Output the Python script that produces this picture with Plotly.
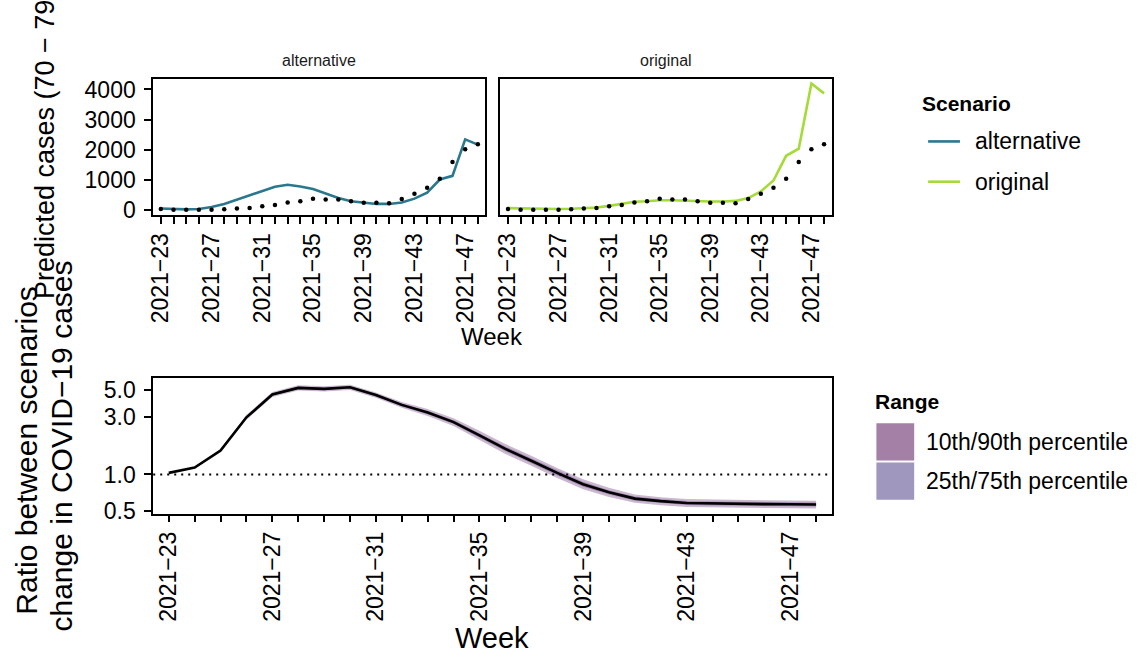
import plotly.graph_objects as go

W, H = 1140, 664

weeks = ["2021-23", "2021-24", "2021-25", "2021-26", "2021-27", "2021-28", "2021-29",
         "2021-30", "2021-31", "2021-32", "2021-33", "2021-34", "2021-35", "2021-36",
         "2021-37", "2021-38", "2021-39", "2021-40", "2021-41", "2021-42", "2021-43",
         "2021-44", "2021-45", "2021-46", "2021-47", "2021-48"]

observed = [35, 15, 10, 12, 15, 30, 55, 70, 130, 170, 255, 290, 380, 350, 350, 295,
            240, 245, 225, 365, 545, 740, 1040, 1595, 2015, 2180]

pred_alternative = [55, 35, 25, 35, 100, 200, 340, 470, 620, 775, 840, 785, 700, 555,
                    400, 295, 240, 205, 205, 250, 380, 580, 1015, 1135, 2345, 2170]

pred_original = [65, 55, 35, 35, 35, 45, 65, 85, 140, 220, 275, 295, 325, 325, 305, 285,
                 285, 285, 305, 400, 620, 980, 1800, 2040, 4195, 3870]

ratio_median = [1.03, 1.14, 1.58, 2.98, 4.61, 5.23, 5.13, 5.29, 4.56, 3.78, 3.27, 2.72,
                2.11, 1.63, 1.30, 1.03, 0.83, 0.71, 0.63, 0.60, 0.58, 0.574, 0.570,
                0.567, 0.566, 0.563]
ratio_p10 = [1.02, 1.12, 1.53, 2.85, 4.40, 4.98, 4.88, 5.03, 4.33, 3.57, 3.06, 2.52,
             1.93, 1.48, 1.18, 0.935, 0.755, 0.650, 0.582, 0.555, 0.537, 0.532, 0.529,
             0.526, 0.525, 0.522]
ratio_p90 = [1.04, 1.16, 1.63, 3.12, 4.83, 5.49, 5.39, 5.56, 4.80, 4.00, 3.49, 2.93,
             2.30, 1.79, 1.43, 1.13, 0.91, 0.775, 0.683, 0.648, 0.625, 0.617, 0.613,
             0.610, 0.609, 0.606]
ratio_p25 = [1.025, 1.13, 1.555, 2.91, 4.50, 5.10, 5.00, 5.16, 4.44, 3.67, 3.16, 2.62,
             2.02, 1.555, 1.24, 0.98, 0.79, 0.68, 0.605, 0.577, 0.558, 0.553, 0.549,
             0.546, 0.545, 0.542]
ratio_p75 = [1.035, 1.15, 1.605, 3.05, 4.72, 5.36, 5.26, 5.42, 4.68, 3.89, 3.38, 2.82,
             2.20, 1.71, 1.36, 1.08, 0.87, 0.74, 0.655, 0.624, 0.603, 0.596, 0.592,
             0.589, 0.588, 0.585]

scenarios = ["alternative", "original"]
scenario_colors = {"alternative": "#2A788E", "original": "#A5DB36"}
range_labels = ["10th/90th percentile", "25th/75th percentile"]
range_key_colors = ["#A47FA6", "#A097BE"]
range_fill_colors = ["rgba(68,1,84,0.28)", "rgba(72,40,120,0.30)"]

y_ticks_top = [0, 1000, 2000, 3000, 4000]
y_ticks_bottom = [0.5, 1.0, 3.0, 5.0]
y_ticktext_bottom = ["0.5", "1.0", "3.0", "5.0"]

week_ticktext = [w.replace("-", "\u2212") if i % 4 == 0 else "" for i, w in enumerate(weeks)]

FONT = "Liberation Sans, Arial, Helvetica, sans-serif"
TXT = "#000000"


def px_x(p):
    return p / W


def px_y(p):
    return 1 - p / H


fig = go.Figure()

# --- top panels ---
preds = {"alternative": pred_alternative, "original": pred_original}
for k, sc in enumerate(scenarios):
    xa = "x" if k == 0 else "x2"
    ya = "y" if k == 0 else "y2"
    fig.add_trace(go.Scatter(x=weeks, y=preds[sc], mode="lines",
                             line=dict(color=scenario_colors[sc], width=2.6),
                             xaxis=xa, yaxis=ya, showlegend=False, name=sc))
    fig.add_trace(go.Scatter(x=weeks, y=observed, mode="markers",
                             marker=dict(color="black", size=4.5),
                             xaxis=xa, yaxis=ya, showlegend=False, name="observed"))

# --- bottom panel: bands + median ---
fig.add_trace(go.Scatter(x=weeks, y=ratio_p90, mode="lines", line=dict(width=0),
                         xaxis="x3", yaxis="y3", showlegend=False, hoverinfo="skip"))
fig.add_trace(go.Scatter(x=weeks, y=ratio_p10, mode="lines", line=dict(width=0),
                         fill="tonexty", fillcolor=range_fill_colors[0],
                         xaxis="x3", yaxis="y3", showlegend=False, name=range_labels[0]))
fig.add_trace(go.Scatter(x=weeks, y=ratio_p75, mode="lines", line=dict(width=0),
                         xaxis="x3", yaxis="y3", showlegend=False, hoverinfo="skip"))
fig.add_trace(go.Scatter(x=weeks, y=ratio_p25, mode="lines", line=dict(width=0),
                         fill="tonexty", fillcolor=range_fill_colors[1],
                         xaxis="x3", yaxis="y3", showlegend=False, name=range_labels[1]))
fig.add_trace(go.Scatter(x=weeks, y=ratio_median, mode="lines",
                         line=dict(color="black", width=2.6),
                         xaxis="x3", yaxis="y3", showlegend=False, name="median"))

# reference line at ratio 1
fig.add_shape(type="line", xref="x3 domain", yref="y3", x0=0, x1=1, y0=1.0, y1=1.0,
              line=dict(color="black", width=2, dash="2px,5px"))

common_x = dict(type="category", categoryorder="array", categoryarray=weeks,
                range=[-0.6, len(weeks) - 1 + 0.6],
                tickmode="array", tickvals=weeks, ticktext=week_ticktext,
                tickangle=-90, ticks="outside", ticklen=7, tickwidth=1.6, tickcolor="black",
                showline=True, mirror=True, linecolor="black", linewidth=1.8,
                showgrid=False, zeroline=False,
                tickfont=dict(size=23, color=TXT, family=FONT))

fig.update_layout(
    width=W, height=H,
    margin=dict(l=0, r=0, t=0, b=0),
    paper_bgcolor="white", plot_bgcolor="white",
    font=dict(family=FONT, color=TXT),
    xaxis=dict(domain=[px_x(148), px_x(482)], anchor="y", **common_x),
    xaxis2=dict(domain=[px_x(497), px_x(830)], anchor="y2", **common_x),
    xaxis3=dict(domain=[px_x(148), px_x(830)], anchor="y3", **common_x),
    yaxis=dict(domain=[px_y(217), px_y(78)], anchor="x", range=[-165, 4360],
               tickmode="array", tickvals=y_ticks_top,
               ticks="outside", ticklen=7, tickwidth=1.6, tickcolor="black",
               ticklabelstandoff=4,
               showline=True, mirror=True, linecolor="black", linewidth=1.8,
               showgrid=False, zeroline=False,
               tickfont=dict(size=23, color=TXT, family=FONT)),
    yaxis2=dict(domain=[px_y(217), px_y(78)], anchor="x2", matches="y",
                showticklabels=False, ticks="",
                showline=True, mirror=True, linecolor="black", linewidth=1.8,
                showgrid=False, zeroline=False),
    yaxis3=dict(domain=[px_y(521), px_y(383)], anchor="x3", type="log",
                range=[-0.325, 0.80],
                tickmode="array", tickvals=y_ticks_bottom, ticktext=y_ticktext_bottom,
                ticks="outside", ticklen=7, tickwidth=1.6, tickcolor="black",
                ticklabelstandoff=4,
                showline=True, mirror=True, linecolor="black", linewidth=1.8,
                showgrid=False, zeroline=False,
                tickfont=dict(size=23, color=TXT, family=FONT)),
)

annotations = []


def ann(text, x, y, size, bold=False, angle=0, xanchor="center", color=TXT):
    annotations.append(dict(
        text=f"<b>{text}</b>" if bold else text, x=px_x(x), y=px_y(y),
        xref="paper", yref="paper", xanchor=xanchor, yanchor="middle",
        showarrow=False, textangle=angle,
        font=dict(size=size, family=FONT, color=color)))


# facet strip labels
ann("alternative", 315, 60, 16, color="#1A1A1A")
ann("original", 663.5, 60, 16, color="#1A1A1A")

# axis titles
ann("Week", 489, 341, 24)
ann("Week", 489, 648, 29)
ann("Predicted cases (70 \u2212 79", 39, 150, 27, angle=-90)
ann("Ratio between scenarios", 21, 456, 30, angle=-90)
ann("change in COVID\u221219 cases", 56, 452, 30, angle=-90)

# legend: Scenario
ann("Scenario", 919, 103, 21, bold=True, xanchor="left")
for i, sc in enumerate(scenarios):
    yy = 142 + i * 41
    fig.add_shape(type="line", xref="paper", yref="paper",
                  x0=px_x(927), x1=px_x(959), y0=px_y(yy), y1=px_y(yy),
                  line=dict(color=scenario_colors[sc], width=2.6))
    ann(sc, 972, yy, 23, xanchor="left")

# legend: Range
ann("Range", 872, 407, 21, bold=True, xanchor="left")
for i, lab in enumerate(range_labels):
    top = 429 + i * 40
    fig.add_shape(type="rect", xref="paper", yref="paper",
                  x0=px_x(875), x1=px_x(913), y0=px_y(top + 38), y1=px_y(top),
                  line=dict(width=0), fillcolor=range_key_colors[i])
    ann(lab, 923, top + 19, 23, xanchor="left")

fig.update_layout(annotations=annotations)

fig.write_html("out.html",
               config={"displayModeBar": False},
               post_script="document.body.style.margin='0';"
                           "document.body.style.overflow='hidden';")
